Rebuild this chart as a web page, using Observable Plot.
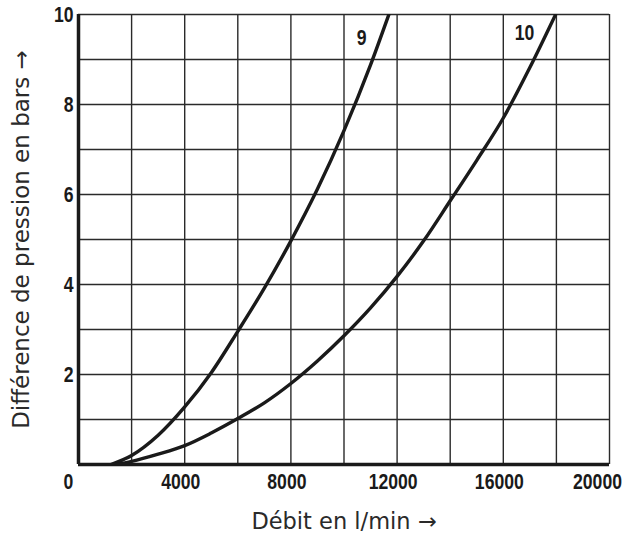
<!DOCTYPE html>
<html>
<head>
<meta charset="utf-8">
<script src="https://cdn.jsdelivr.net/npm/d3@7"></script>
<script src="https://cdn.jsdelivr.net/npm/@observablehq/plot@0.6"></script>
<style>
  html, body { margin: 0; padding: 0; background: #fff; }
  #chart svg { display: block; }
  g[aria-label="x-axis label"] text, g[aria-label="y-axis label"] text {
    font-family: "DejaVu Sans", sans-serif !important;
    font-weight: normal !important;
    fill: #2a2a2a;
  }
  g[aria-label="x-axis label"] text { font-size: 22.5px !important; }
  g[aria-label="y-axis label"] text { font-size: 23px !important; }
</style>
</head>
<body>
<div id="chart"></div>
<script>
// Curve "9": flow (l/min) vs pressure difference (bar)
const flow9 = [1220, 2000, 3000, 4000, 5000, 6000, 7000, 8000, 9000, 10000, 11000, 11690];
const dp9   = [0, 0.2, 0.65, 1.28, 2.04, 2.96, 3.92, 4.97, 6.12, 7.42, 8.88, 10];
// Curve "10"
const flow10 = [1400, 2000, 3000, 4000, 5000, 6000, 7000, 8000, 9000, 10000, 11000, 12000, 13000, 14000, 15000, 16000, 17000, 17970];
const dp10   = [0, 0.07, 0.23, 0.42, 0.7, 1.02, 1.37, 1.8, 2.3, 2.86, 3.48, 4.18, 4.97, 5.86, 6.76, 7.7, 8.82, 10];

const curveNames = ["9", "10"];
const labelFlow = [10660, 16800];
const labelDp = [9.47, 9.6];

const xTicksLeft = [0];
const xTicksMid = [4000, 8000, 12000, 16000];
const xTicksRight = [20000];
const yTicks = [2, 4, 6, 8, 10];
const xGrid = [2000, 4000, 6000, 8000, 10000, 12000, 14000, 16000, 18000, 20000];
const yGrid = [1, 2, 3, 4, 5, 6, 7, 8, 9, 10];

const xTitle = "Débit en l/min →";
const yTitle = "Différence de pression en bars →";

const series = [
  ...flow9.map((f, i) => ({curve: curveNames[0], flow: f, dp: dp9[i]})),
  ...flow10.map((f, i) => ({curve: curveNames[1], flow: f, dp: dp10[i]}))
];
const labels = curveNames.map((c, i) => ({curve: c, flow: labelFlow[i], dp: labelDp[i]}));

const boldFont = {fontFamily: "'Liberation Sans', Arial, sans-serif", fontWeight: "bold", fontSize: 22};
const tickX = {tickSize: 0, tickPadding: 9, tickFormat: "d", ...boldFont, label: null};

const chart = Plot.plot({
  width: 637,
  height: 534,
  marginLeft: 78,
  marginRight: 28,
  marginTop: 14,
  marginBottom: 70,
  style: {fontFamily: "'DejaVu Sans', sans-serif", background: "#fff", color: "#1a1a1a"},
  x: {domain: [0, 20000]},
  y: {domain: [0, 10]},
  marks: [
    Plot.ruleX(xGrid, {stroke: "#2a2a2a", strokeWidth: 1.4}),
    Plot.ruleY(yGrid, {stroke: "#2a2a2a", strokeWidth: 1.4}),
    Plot.line(series, {x: "flow", y: "dp", z: "curve", curve: "monotone-x", stroke: "#1a1a1a", strokeWidth: 3.4, clip: true}),
    Plot.ruleX([0], {stroke: "#1a1a1a", strokeWidth: 3.5}),
    Plot.ruleY([0], {stroke: "#1a1a1a", strokeWidth: 3.5}),
    Plot.text(labels, {x: "flow", y: "dp", text: "curve", ...boldFont, fill: "#1a1a1a", className: "condense"}),
    Plot.axisX(xTicksLeft, {...tickX, dx: -10, className: "condense"}),
    Plot.axisX(xTicksMid, {...tickX, dx: -4, className: "condense"}),
    Plot.axisX(xTicksRight, {...tickX, dx: -12, className: "condense"}),
    Plot.axisX([], {tickSize: 0, label: xTitle, labelAnchor: "center", labelArrow: "none", labelOffset: 64}),
    Plot.axisY(yTicks, {
      tickSize: 0, tickPadding: 5, tickFormat: "d", ...boldFont, className: "condense",
      label: yTitle, labelAnchor: "center", labelArrow: "none", labelOffset: 66
    })
  ]
});
document.getElementById("chart").appendChild(chart);

// Condense the bold digits horizontally (narrow bold face of the reference)
const sx = 0.8;
d3.select(chart).selectAll(".condense text").each(function() {
  if (this.closest("g[aria-label='x-axis label'], g[aria-label='y-axis label']")) return;
  const t = d3.select(this);
  const tr = t.attr("transform");
  const x = t.attr("x");
  if (tr) {
    t.attr("transform", `${tr} scale(${sx},1)`);
  } else if (x != null && !isNaN(+x)) {
    t.attr("transform", `translate(${x},0) scale(${sx},1)`).attr("x", 0);
  }
});
</script>
</body>
</html>
